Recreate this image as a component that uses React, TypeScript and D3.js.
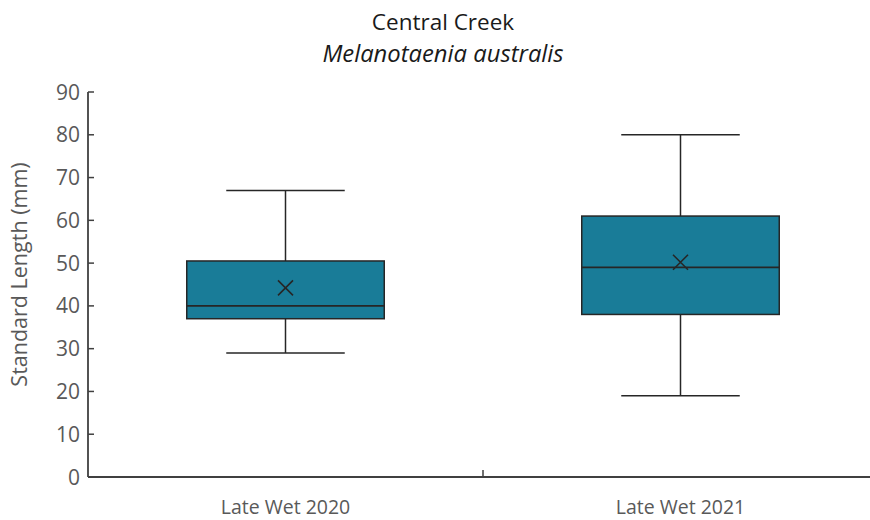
import React from "react";
import * as d3 from "d3";

const categories = ["Late Wet 2020", "Late Wet 2021"];
const minValues = [29, 19];
const q1Values = [37, 38];
const medianValues = [40, 49];
const q3Values = [50.5, 61];
const maxValues = [67, 80];
const meanValues = [44.2, 50.2];
const yTicks = [0, 10, 20, 30, 40, 50, 60, 70, 80, 90];

const W = 870;
const H = 520;
const margin = { left: 88, right: -8, top: 92, bottom: 43 };
const FONT = "'Open Sans', 'Noto Sans', sans-serif";
const FILL = "#197c98";
const STROKE = "#262626";
const AXIS = "#404040";
const TEXT = "#595959";

export default function App() {
  const x = d3
    .scaleBand<string>()
    .domain(categories)
    .range([margin.left, W - margin.right])
    .paddingInner(0)
    .paddingOuter(0);
  const y = d3.scaleLinear().domain([0, 90]).range([H - margin.bottom, margin.top]);
  const bw = x.bandwidth();
  const boxW = bw * 0.5;
  const capW = boxW * 0.3;
  const m = 7.5;

  return (
    <svg width={W} height={H} style={{ position: "absolute", left: 0, top: 0, background: "#fff" }}>
      <text x={443} y={30} textAnchor="middle" fontFamily={FONT} fontSize={22.5} fill="#1a1a1a">
        Central Creek
      </text>
      <text x={443} y={62} textAnchor="middle" fontFamily={FONT} fontSize={23.8} fontStyle="italic" fill="#1a1a1a">
        Melanotaenia australis
      </text>

      {/* Y axis */}
      <line x1={margin.left} x2={margin.left} y1={y(90)} y2={y(0)} stroke={AXIS} strokeWidth={1.8} />
      {yTicks.map((t) => (
        <g key={t}>
          <line x1={margin.left} x2={margin.left + 6} y1={y(t)} y2={y(t)} stroke={AXIS} strokeWidth={1.5} />
          <text x={margin.left - 8} y={y(t)} dy="0.36em" textAnchor="end" fontFamily={FONT} fontSize={21} fill={TEXT}>
            {t}
          </text>
        </g>
      ))}
      <text
        transform={`translate(27, ${(y(0) + y(90)) / 2 - 10}) rotate(-90)`}
        textAnchor="middle"
        fontFamily={FONT}
        fontSize={21.5}
        fill={TEXT}
      >
        Standard Length (mm)
      </text>

      {/* X axis */}
      <line x1={margin.left} x2={W - margin.right} y1={y(0)} y2={y(0)} stroke={AXIS} strokeWidth={1.8} />
      {categories.slice(1).map((c) => (
        <line key={c} x1={x(c)!} x2={x(c)!} y1={y(0)} y2={y(0) - 7} stroke={AXIS} strokeWidth={1.5} />
      ))}
      {categories.map((c) => (
        <text
          key={c}
          x={x(c)! + bw / 2}
          y={y(0) + 37}
          textAnchor="middle"
          fontFamily={FONT}
          fontSize={19.5}
          fill={TEXT}
        >
          {c}
        </text>
      ))}

      {/* Boxes */}
      {categories.map((c, i) => {
        const cx = x(c)! + bw / 2;
        const mx = y(meanValues[i]);
        return (
          <g key={c}>
            <line x1={cx} x2={cx} y1={y(maxValues[i])} y2={y(q3Values[i])} stroke={STROKE} strokeWidth={1.5} />
            <line x1={cx} x2={cx} y1={y(q1Values[i])} y2={y(minValues[i])} stroke={STROKE} strokeWidth={1.5} />
            <line x1={cx - capW} x2={cx + capW} y1={y(maxValues[i])} y2={y(maxValues[i])} stroke={STROKE} strokeWidth={1.5} />
            <line x1={cx - capW} x2={cx + capW} y1={y(minValues[i])} y2={y(minValues[i])} stroke={STROKE} strokeWidth={1.5} />
            <rect
              x={cx - boxW / 2}
              y={y(q3Values[i])}
              width={boxW}
              height={y(q1Values[i]) - y(q3Values[i])}
              fill={FILL}
              stroke={STROKE}
              strokeWidth={1.5}
            />
            <line
              x1={cx - boxW / 2}
              x2={cx + boxW / 2}
              y1={y(medianValues[i])}
              y2={y(medianValues[i])}
              stroke={STROKE}
              strokeWidth={1.8}
            />
            <path
              d={`M${cx - m},${mx - m}L${cx + m},${mx + m}M${cx - m},${mx + m}L${cx + m},${mx - m}`}
              stroke={STROKE}
              strokeWidth={1.6}
              fill="none"
            />
          </g>
        );
      })}
    </svg>
  );
}
